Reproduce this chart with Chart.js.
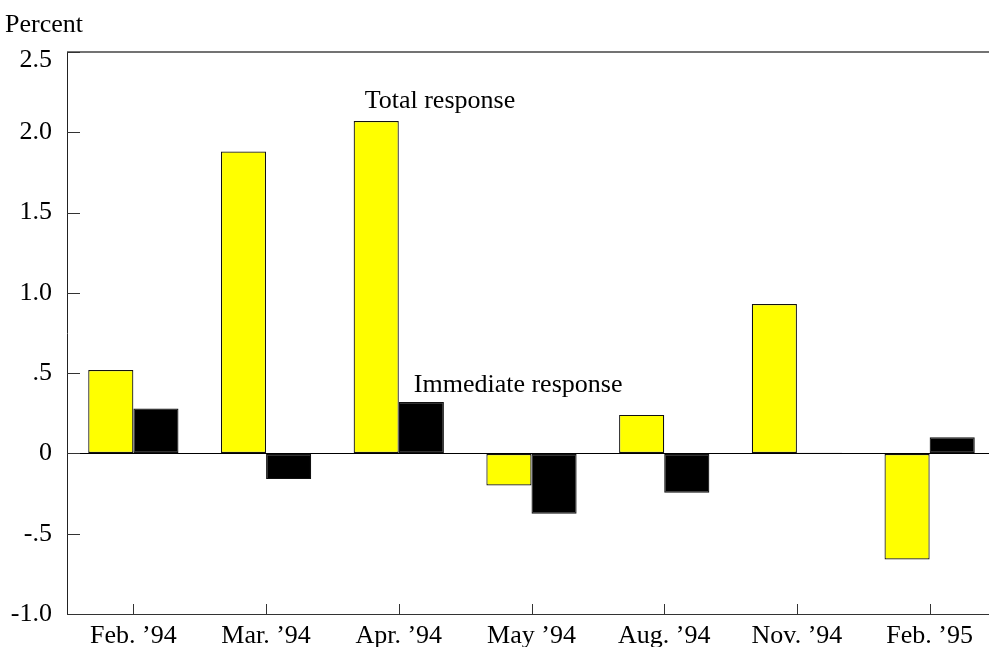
<!DOCTYPE html>
<html>
<head>
<meta charset="utf-8">
<script src="https://cdn.jsdelivr.net/npm/chart.js@4.4.1/dist/chart.umd.min.js"></script>
<style>
    body { margin: 0; background: #fff; overflow: hidden; }
    #wrap { width: 996px; height: 647px; position: relative; }
</style>
</head>
<body>
<div id="wrap"><canvas id="chart"></canvas></div>
<script>
var categories = ['Feb. \u201994', 'Mar. \u201994', 'Apr. \u201994', 'May \u201994', 'Aug. \u201994', 'Nov. \u201994', 'Feb. \u201995'];
var totalResponse = [0.52, 1.88, 2.07, -0.20, 0.24, 0.93, -0.66];
var immediateResponse = [0.28, -0.16, 0.32, -0.375, -0.245, 0.004, 0.10];
var yTickValues = [-1.0, -0.5, 0, 0.5, 1.0, 1.5, 2.0, 2.5];
var yTickLabels = ['-1.0', '-.5', '0', '.5', '1.0', '1.5', '2.0', '2.5'];

var FONT = '"Liberation Serif", "Times New Roman", serif';

// assi, tacche interne, testo
var extras = {
    id: 'extras',
    afterDraw: function(chart) {
        var ctx = chart.ctx;
        var area = chart.chartArea;
        var y = chart.scales.y;
        var x = chart.scales.x;

        ctx.save();
        // linea superiore
        ctx.strokeStyle = '#444';
        ctx.lineWidth = 1.5;
        ctx.beginPath();
        ctx.moveTo(area.left, area.top);
        ctx.lineTo(area.right, area.top);
        ctx.stroke();

        // tacche asse y verso l'interno
        ctx.strokeStyle = '#333';
        ctx.lineWidth = 1;
        for (var i = 0; i < yTickValues.length; i++) {
            var py = Math.round(y.getPixelForValue(yTickValues[i])) + 0.5;
            ctx.beginPath();
            ctx.moveTo(area.left, py);
            ctx.lineTo(area.left + 13, py);
            ctx.stroke();
        }

        // tacche asse x verso l'alto
        for (var j = 0; j < categories.length; j++) {
            var px = Math.round(x.getPixelForValue(j)) + 0.5;
            ctx.beginPath();
            ctx.moveTo(px, area.bottom);
            ctx.lineTo(px, area.bottom - 10);
            ctx.stroke();
        }

        // etichette asse y (disegnate a mano, la 2.5 e' spostata in basso come nell'originale)
        ctx.fillStyle = '#000';
        ctx.font = '26px ' + FONT;
        ctx.textAlign = 'right';
        ctx.textBaseline = 'middle';
        for (var k = 0; k < yTickValues.length; k++) {
            var ty = y.getPixelForValue(yTickValues[k]);
            if (yTickValues[k] === 2.5) ty += 8;
            ctx.fillText(yTickLabels[k], area.left - 15, ty);
        }

        // titolo asse
        ctx.textAlign = 'left';
        ctx.textBaseline = 'alphabetic';
        ctx.fillText('Percent', 5, 32);

        // etichette serie
        var totalBar = chart.getDatasetMeta(0).data[2];
        var immBar = chart.getDatasetMeta(1).data[2];
        ctx.fillText('Total response', totalBar.x - totalBar.width / 2 + 11, totalBar.y - 13);
        ctx.fillText('Immediate response', immBar.x - immBar.width / 2 + 15, immBar.y - 10);
        ctx.restore();
    }
};

var chart = new Chart(document.getElementById('chart'), {
    type: 'bar',
    data: {
        labels: categories,
        datasets: [{
            label: 'Total response',
            data: totalResponse,
            backgroundColor: '#ffff00',
            borderColor: '#111',
            borderWidth: 1.2,
            borderSkipped: false,
            categoryPercentage: 0.68,
            barPercentage: 1.0
        }, {
            label: 'Immediate response',
            data: immediateResponse,
            backgroundColor: '#000000',
            borderColor: '#111',
            borderWidth: 1.2,
            borderSkipped: false,
            categoryPercentage: 0.68,
            barPercentage: 1.0
        }]
    },
    options: {
        responsive: true,
        maintainAspectRatio: false,
        animation: false,
        layout: { padding: { top: 52, right: 0, left: 0, bottom: 0 } },
        plugins: {
            legend: { display: false },
            tooltip: { enabled: false }
        },
        scales: {
            x: {
                grid: { display: false, drawTicks: false },
                border: { display: true, color: '#333', width: 1 },
                ticks: {
                    color: '#000',
                    font: { family: FONT, size: 26 },
                    padding: 7,
                    maxRotation: 0,
                    autoSkip: false
                },
                afterFit: function(scale) { scale.height = 33; }
            },
            y: {
                min: -1.0,
                max: 2.5,
                grid: {
                    drawTicks: false,
                    color: function(c) { return c.tick && c.tick.value === 0 ? '#000' : 'rgba(0,0,0,0)'; },
                    lineWidth: 1
                },
                border: { display: true, color: '#222', width: 1 },
                ticks: {
                    stepSize: 0.5,
                    display: false
                },
                afterFit: function(scale) { scale.width = 67; }
            }
        }
    },
    plugins: [extras]
});
</script>
</body>
</html>
